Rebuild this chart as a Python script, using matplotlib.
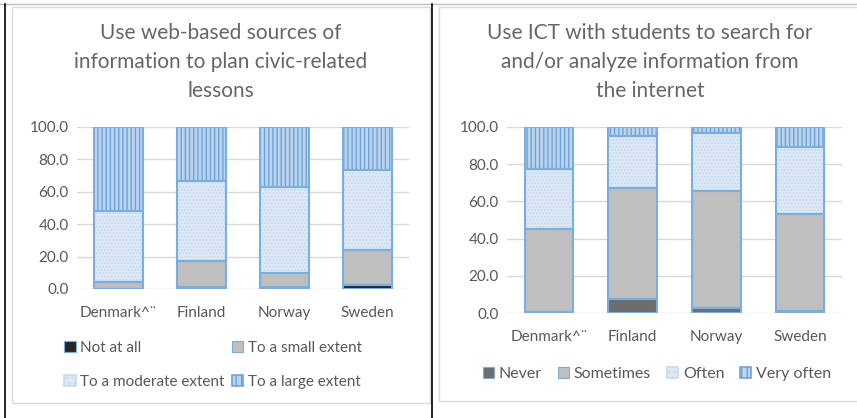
import matplotlib
matplotlib.use('Agg')
import matplotlib.pyplot as plt
from matplotlib.patches import Patch, Rectangle
from matplotlib.lines import Line2D
import numpy as np

plt.rcParams['font.family'] = ['Lato', 'DejaVu Sans']
plt.rcParams['hatch.linewidth'] = 1.0

# Datos
paises = ['Denmark^¨', 'Finland', 'Norway', 'Sweden']

# Panel izquierdo
izq_series = ['Not at all', 'To a small extent', 'To a moderate extent', 'To a large extent']
izq_not_at_all = [0.3, 1.4, 1.2, 2.2]
izq_small = [4.0, 15.8, 8.5, 21.6]
izq_moderate = [43.8, 49.3, 53.3, 49.7]
izq_large = [51.9, 33.5, 37.0, 26.5]

# Panel derecho
der_series = ['Never', 'Sometimes', 'Often', 'Very often']
der_never = [0.5, 7.5, 2.7, 1.4]
der_sometimes = [44.7, 59.6, 62.7, 51.6]
der_often = [32.1, 27.7, 31.4, 36.1]
der_very_often = [22.7, 5.2, 3.2, 10.9]

titulo_izq = 'Use web-based sources of\ninformation to plan civic-related\nlessons'
titulo_der = 'Use ICT with students to search for\nand/or analyze information from\nthe internet'

gris_txt = '#595959'
borde = '#79aee0'
estilos_izq = [
    dict(color='#262626', hatch=None, hcolor=None),
    dict(color='#bfbfbf', hatch=None, hcolor=None),
    dict(color='#dde9f6', hatch='.....', hcolor='#c8daee'),
    dict(color='#bcd5ee', hatch='||||', hcolor='#6fa3d8'),
]
estilos_der = [dict(estilos_izq[0], color='#6d6d6d')] + estilos_izq[1:]

fig = plt.figure(figsize=(8.57, 4.18), dpi=100)

# marcos
fig.add_artist(Rectangle((12/857, 1-403/418), 418/857, 396/418, transform=fig.transFigure,
                         fill=False, edgecolor='#d9d9d9', linewidth=1))
fig.add_artist(Rectangle((439/857, 1-401/418), 420/857, 394/418, transform=fig.transFigure,
                         fill=False, edgecolor='#d9d9d9', linewidth=1))
fig.add_artist(Line2D([0, 1], [1-4/418, 1-4/418], transform=fig.transFigure, color='#bfbfbf', lw=1))
for xp in [5, 432]:
    fig.add_artist(Line2D([xp/857, xp/857], [0, 1-4/418], transform=fig.transFigure, color='black', lw=1.2))


def panel(ax, valores, nombres, estilos):
    x = np.arange(len(paises))
    base = np.zeros(len(paises))
    handles = []
    for vals, nom, est in zip(valores, nombres, estilos):
        vals = np.array(vals)
        if est['hatch']:
            ax.bar(x, vals, 0.58, bottom=base, color=est['color'], hatch=est['hatch'],
                   edgecolor=est['hcolor'], linewidth=0, zorder=2)
        else:
            ax.bar(x, vals, 0.58, bottom=base, color=est['color'], linewidth=0, zorder=2)
        ax.bar(x, vals, 0.58, bottom=base, fill=False, edgecolor=borde, linewidth=1.5, zorder=3)
        base += vals
        if est['hatch']:
            handles.append(Patch(facecolor=est['color'], edgecolor=est['hcolor'], hatch=est['hatch'][:3],
                                 linewidth=1.2, label=nom))
        else:
            handles.append(Patch(facecolor=est['color'], edgecolor=borde, linewidth=0.8, label=nom))
    ax.set_ylim(0, 100)
    ax.set_xlim(-0.5, 3.5)
    ax.set_yticks([0, 20, 40, 60, 80, 100])
    ax.set_yticklabels([f'{v:.1f}' for v in [0, 20, 40, 60, 80, 100]])
    ax.set_xticks(x)
    ax.set_xticklabels(paises)
    ax.grid(axis='y', color='#d9d9d9', linewidth=1, zorder=0)
    ax.set_axisbelow(True)
    for s in ax.spines.values():
        s.set_visible(False)
    ax.tick_params(length=0, labelsize=11, colors=gris_txt, pad=6)
    ax.tick_params(axis='x', pad=12)
    return handles


ax1 = fig.add_axes([77/857, 1-289/418, 332/857, 162.3/418])
h1 = panel(ax1, [izq_not_at_all, izq_small, izq_moderate, izq_large], izq_series, estilos_izq)
fig.text(221/857, 1-62/418, titulo_izq, ha='center', va='center', fontsize=15, color='#666666',
         linespacing=1.55)
fig.legend(handles=[h1[0], h1[2], h1[1], h1[3]], loc='center', bbox_to_anchor=(213/857, 1-365/418),
           ncol=2, frameon=False, fontsize=11, labelcolor=gris_txt, handlelength=0.75,
           handleheight=0.75, handletextpad=0.3, columnspacing=0.45, labelspacing=1.3)

ax2 = fig.add_axes([507/857, 1-313.3/418, 335/857, 186.6/418])
h2 = panel(ax2, [der_never, der_sometimes, der_often, der_very_often], der_series, estilos_der)
fig.text(650/857, 1-62/418, titulo_der, ha='center', va='center', fontsize=15, color='#666666',
         linespacing=1.55)
fig.legend(handles=h2, loc='center', bbox_to_anchor=(657/857, 1-374/418), ncol=4, frameon=False,
           fontsize=11.5, labelcolor=gris_txt, handlelength=0.7, handleheight=0.7, handletextpad=0.3,
           columnspacing=1.0)

fig.savefig('out.png', dpi=100, facecolor='white')
